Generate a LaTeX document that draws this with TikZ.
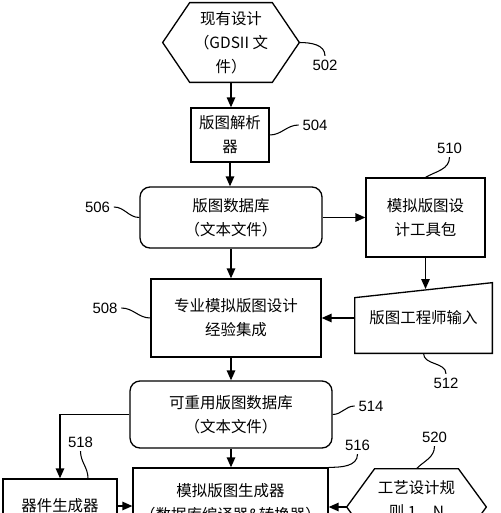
\documentclass[tikz,border=0pt]{standalone}
\usepackage{fontspec}
\setmainfont{Liberation Sans}
\newfontfamily\cjk{Noto Sans CJK SC}
\usetikzlibrary{arrows.meta,calc}

\tikzset{
  blk/.style={draw,line width=0.75pt,align=center,inner sep=0pt,font=\cjk\fontsize{8.8}{13.6}\selectfont},
  dbbox/.style={blk,rounded corners=0.2cm},
  txt/.style={align=center,inner sep=0pt,font=\cjk\fontsize{8.8}{13.6}\selectfont},
  lbl/.style={inner sep=2pt,font=\fontsize{8.5}{10}\selectfont},
  flow/.style={line width=0.75pt,-{Triangle[length=0.2cm,width=0.17cm]}},
  lead/.style={line width=0.6pt},
}

\begin{document}
\begin{tikzpicture}[x=0.02cm,y=-0.02cm]
  \useasboundingbox (0,0) rectangle (500,513);
  \clip (0,0) rectangle (500,513);

  % blocks
  \node[txt,minimum width=1.64cm,minimum height=1.58cm] (hex502) at (231,42.5) {现有设计\\（GDSII 文\\件）};
  \draw[line width=0.75pt] (hex502.north west) -- (hex502.north east) -- ($(hex502.east)+(27,0)$) coordinate (hex502e)
    -- (hex502.south east) -- (hex502.south west) -- ($(hex502.west)+(-27,0)$) -- cycle;
  \node[blk,minimum width=1.56cm,minimum height=1.08cm] (box504) at (230,135) {版图解析\\器};
  \node[dbbox,minimum width=3.64cm,minimum height=1.22cm] (db506) at (231,217.5) {版图数据库\\（文本文件）};
  \node[blk,minimum width=2.38cm,minimum height=1.58cm] (box510) at (425.5,217.5) {模拟版图设\\计工具包};
  \node[blk,minimum width=3.4cm,minimum height=1.56cm] (box508) at (236,318) {专业模拟版图设计\\经验集成};
  \node[txt,minimum width=2.74cm,minimum height=1.4cm] (man512) at (423.5,318) {版图工程师输入};
  \draw[line width=0.75pt] (man512.south west) -- (man512.south east) -- (man512.north east)
    -- ($(man512.north west)+(0,15)$) -- cycle;
  \coordinate (m512top) at (425.5,289);
  \node[dbbox,minimum width=4.04cm,minimum height=1.34cm] (db514) at (231,414.5) {可重用版图数据库\\（文本文件）};
  \node[blk,minimum width=3.9cm,minimum height=1.38cm] (box516) at (230.5,502.5) {模拟版图生成器\\（数据库编译器\&转换器）};
  \node[blk,minimum width=2.28cm,minimum height=1.08cm] (box518) at (60,506) {器件生成器};
  \node[minimum width=1.66cm,minimum height=1.52cm,inner sep=0pt] (hex520) at (416.5,507) {};
  \draw[line width=0.75pt] (hex520.north west) -- (hex520.north east) -- ($(hex520.east)+(28,0)$)
    -- (hex520.south east) -- (hex520.south west) -- ($(hex520.west)+(-28,0)$) coordinate (hex520w) -- cycle;
  \node[txt] (t520) at (416.5,500) {工艺设计规\\则 1…N};

  % flow
  \draw[flow] (hex502.south) -- (hex502.south |- box504.north);
  \draw[flow] (box504.south) -- (box504.south |- db506.north);
  \draw[flow] (db506.east) -- (box510.west);
  \draw[flow] (db506.south) -- (db506.south |- box508.north);
  \draw[flow] (box510.south) -- (m512top);
  \draw[flow] (man512.west) -- (box508.east);
  \draw[flow] (db514.north |- box508.south) -- (db514.north);
  \draw[flow] (db514.south) -- (db514.south |- box516.north);
  \draw[flow] (db514.west) -| (box518.north);
  \draw[flow] (box518.east) -- (box518.east -| box516.west);
  \draw[flow] (hex520w) -- (hex520w -| box516.east);

  % reference numerals
  \node[lbl] (l502) at (325,65) {502};
  \node[lbl] (l504) at (315,125) {504};
  \node[lbl] (l506) at (97.5,207) {506};
  \node[lbl] (l508) at (105,308) {508};
  \node[lbl] (l510) at (449.5,148) {510};
  \node[lbl] (l512) at (446,383) {512};
  \node[lbl] (l514) at (371,406) {514};
  \node[lbl] (l516) at (357.5,445) {516};
  \node[lbl] (l518) at (80.5,442) {518};
  \node[lbl] (l520) at (434.5,437) {520};
  \draw[lead] (hex502e) to[out=0,in=90] (l502.north);
  \draw[lead] (box504.east) to[out=0,in=180] (l504.west);
  \draw[lead] (l506.east) to[out=0,in=180] (db506.west);
  \draw[lead] (l508.east) to[out=0,in=180] (box508.west);
  \draw[lead] (box510.north) to[out=30,in=-90] (l510.south);
  \draw[lead] (man512.south) to[out=-90,in=90] (l512.north);
  \draw[lead] (db514.east) to[out=0,in=180] (l514.west);
  \draw[lead] (box516.north east) to[out=0,in=-90] (l516.south);
  \draw[lead] (l518.south) to[out=-90,in=90] ($(box518.north)+(28,0)$);
  \draw[lead] (hex520.north) to[out=45,in=-90] (l520.south);
\end{tikzpicture}
\end{document}
